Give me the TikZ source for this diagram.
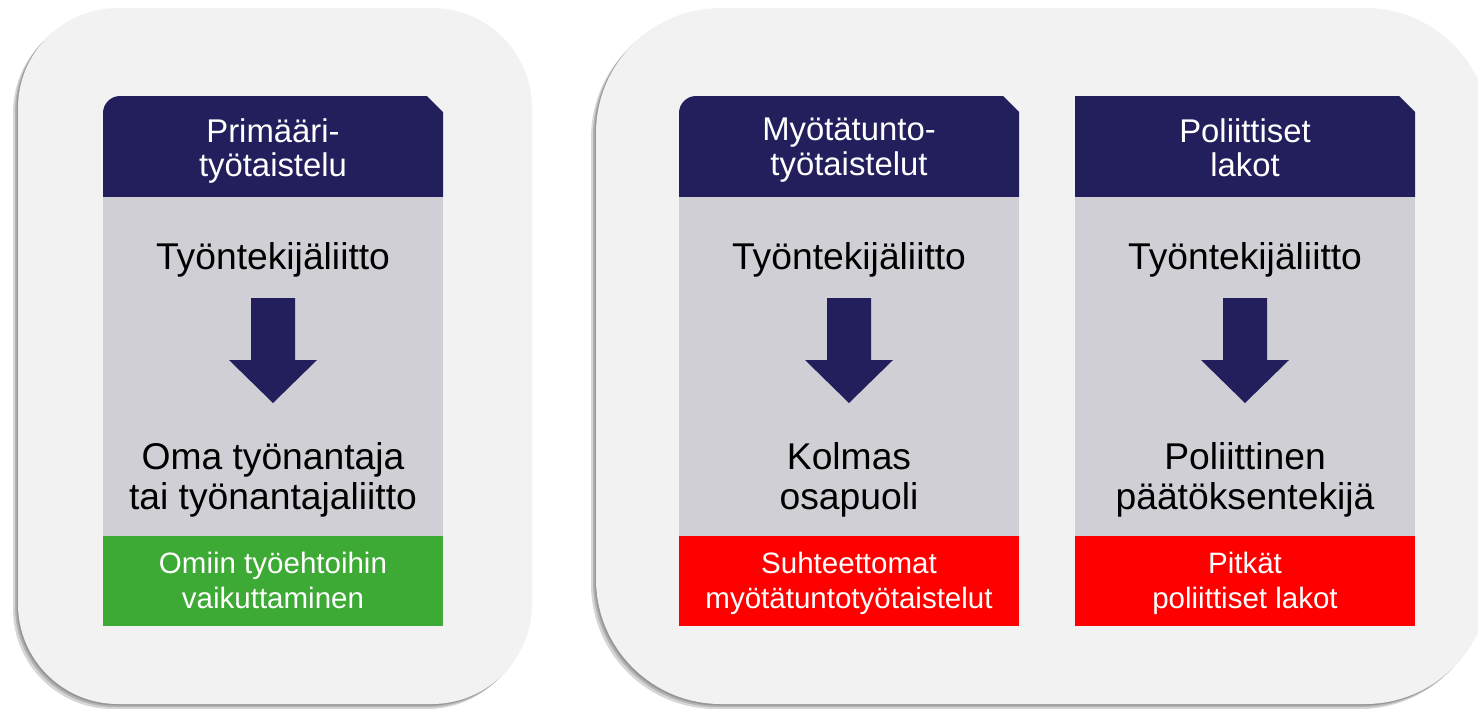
\documentclass[tikz,border=0pt]{standalone}
\usepackage{fontspec}
\setmainfont{Liberation Sans}
\usepackage{xcolor}
\definecolor{navy}{RGB}{34,31,92}
\definecolor{cardgray}{RGB}{208,207,214}
\definecolor{panelgray}{RGB}{242,242,242}
\definecolor{green}{RGB}{61,170,53}

\begin{document}
\begin{tikzpicture}[x=0.02cm, y=-0.02cm,
    panel/.style={fill=panelgray, rounded corners=#1},
    panelshadow/.style={fill=black, opacity=0.16, rounded corners=#1},
    headtext/.style={white, align=center, anchor=north, inner sep=0pt,
        font=\fontsize{18.7}{19.4}\selectfont},
    bodytext/.style={black, align=center, anchor=north, inner sep=0pt,
        font=\fontsize{21.2}{22.6}\selectfont},
    foottext/.style={white, align=center, anchor=north, inner sep=0pt,
        font=\fontsize{16.8}{19.9}\selectfont}]

    % Frame
    \useasboundingbox (0,0) rectangle (1478,708);
    \clip (0,0) rectangle (1478,708);

    % Panel shadows
    \foreach \d in {5,3,1.5}{
        \fill[panelshadow=2cm] (18-\d,8+\d) rectangle (532-\d,704+\d);
        \fill[panelshadow=2.5cm] (596-\d,8+\d) rectangle (1490-\d,704+\d);
    }

    % Panels
    \fill[panel=2cm] (18,8) rectangle (532,704);
    \fill[panel=2.5cm] (596,8) rectangle (1490,704);

    % Cards
    \foreach \x/\rad/\head/\target/\foot/\col [count=\i] in {
        103/17/{Primääri-\\työtaistelu}/{Oma työnantaja\\tai työnantajaliitto}/{Omiin työehtoihin\\vaikuttaminen}/green,
        679/17/{Myötätunto-\\työtaistelut}/{Kolmas\\osapuoli}/{Suhteettomat\\myötätuntotyötaistelut}/red,
        1075/0/{Poliittiset\\lakot}/{Poliittinen\\päätöksentekijä}/{Pitkät\\poliittiset lakot}/red}{

        % Header
        \fill[navy] (\x,197) -- (\x,96+\rad)
            .. controls (\x,96+0.45*\rad) and (\x+0.45*\rad,96) .. (\x+\rad,96)
            -- (\x+324,96) -- (\x+340,112) -- (\x+340,197) -- cycle;

        % Body and result bar
        \fill[cardgray] (\x,197) rectangle (\x+340,536);
        \fill[\col] (\x,536) rectangle (\x+340,626);

        % Down arrow
        \fill[navy] (\x+148,298) -- (\x+192,298) -- (\x+192,360) -- (\x+214,360)
            -- (\x+170,403) -- (\x+126,360) -- (\x+148,360) -- cycle;

        % Texts
        \node[headtext] (head\i) at (\x+170,118) {\head};
        \node[bodytext] (src\i) at (\x+170,242) {Työntekijäliitto};
        \node[bodytext] (dst\i) at (\x+170,442) {\target};
        \node[foottext] (foot\i) at (\x+170,552) {\foot};
    }

\end{tikzpicture}
\end{document}
